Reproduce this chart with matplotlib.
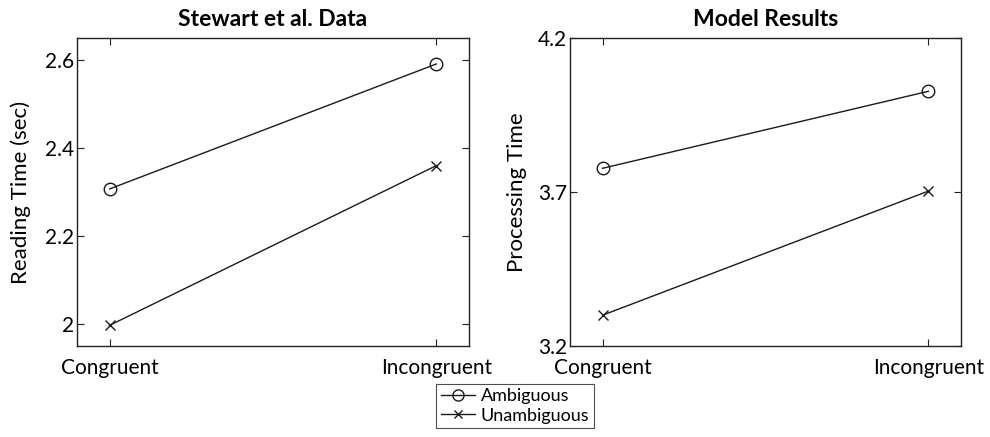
import matplotlib.pyplot as plt
from matplotlib.lines import Line2D

plt.rcParams["font.family"] = ["Lato", "DejaVu Sans"]

conditions = ["Congruent", "Incongruent"]
series_names = ["Ambiguous", "Unambiguous"]

# Stewart et al. data (reading time, sec)
stewart_ambiguous = [2.307, 2.591]
stewart_unambiguous = [1.997, 2.360]

# Model results (processing time)
model_ambiguous = [3.777, 4.027]
model_unambiguous = [3.300, 3.703]

stewart_ticks = [2.0, 2.2, 2.4, 2.6]
stewart_ticklabels = ["2", "2.2", "2.4", "2.6"]
model_ticks = [3.2, 3.7, 4.2]
model_ticklabels = ["3.2", "3.7", "4.2"]


def style_axes(ax):
    ax.tick_params(direction="in", top=True, right=True, length=5,
                   width=0.8, labelsize=15, color="#222222")
    ax.tick_params(axis="y", pad=2)
    ax.tick_params(axis="x", pad=9)
    for spine in ax.spines.values():
        spine.set_linewidth(1.0)
        spine.set_color("#222222")


fig = plt.figure(figsize=(9.9, 4.37), dpi=100)
ax1 = fig.add_axes([77 / 990, 1 - 346 / 437, 392 / 990, 308 / 437])
ax2 = fig.add_axes([570 / 990, 1 - 346 / 437, 391 / 990, 308 / 437])

x = [1, 2]
marker_kw = dict(color="#1a1a1a", linewidth=1.0)

ax1.plot(x, stewart_ambiguous, marker="o", markersize=9,
         markerfacecolor="none", **marker_kw)
ax1.plot(x, stewart_unambiguous, marker="x", markersize=7, **marker_kw)
ax1.set_xlim(0.9, 2.1)
ax1.set_ylim(1.95, 2.65)
ax1.set_yticks(stewart_ticks)
ax1.set_yticklabels(stewart_ticklabels)
ax1.set_xticks(x)
ax1.set_xticklabels(conditions)
ax1.set_ylabel("Reading Time (sec)", fontsize=16, labelpad=10)
ax1.set_title("Stewart et al. Data", fontsize=16.5, fontweight="bold", pad=9)
style_axes(ax1)

ax2.plot(x, model_ambiguous, marker="o", markersize=9,
         markerfacecolor="none", **marker_kw)
ax2.plot(x, model_unambiguous, marker="x", markersize=7, **marker_kw)
ax2.set_xlim(0.9, 2.1)
ax2.set_ylim(3.2, 4.2)
ax2.set_yticks(model_ticks)
ax2.set_yticklabels(model_ticklabels)
ax2.set_xticks(x)
ax2.set_xticklabels(conditions)
ax2.set_ylabel("Processing Time", fontsize=16, labelpad=8)
ax2.set_title("Model Results", fontsize=16.5, fontweight="bold", pad=9)
style_axes(ax2)

handles = [
    Line2D([], [], marker="o", markersize=8, markerfacecolor="none", **marker_kw),
    Line2D([], [], marker="x", markersize=6, **marker_kw),
]
leg = fig.legend(handles, series_names, loc="center",
                 bbox_to_anchor=(515 / 990, 1 - 406 / 437),
                 fontsize=13, frameon=True, fancybox=False,
                 handlelength=1.9, handletextpad=0.3, borderpad=0.25,
                 labelspacing=0.2, borderaxespad=0)
leg.get_frame().set_edgecolor("#222222")
leg.get_frame().set_linewidth(0.8)

fig.savefig("out.png", dpi=100)
